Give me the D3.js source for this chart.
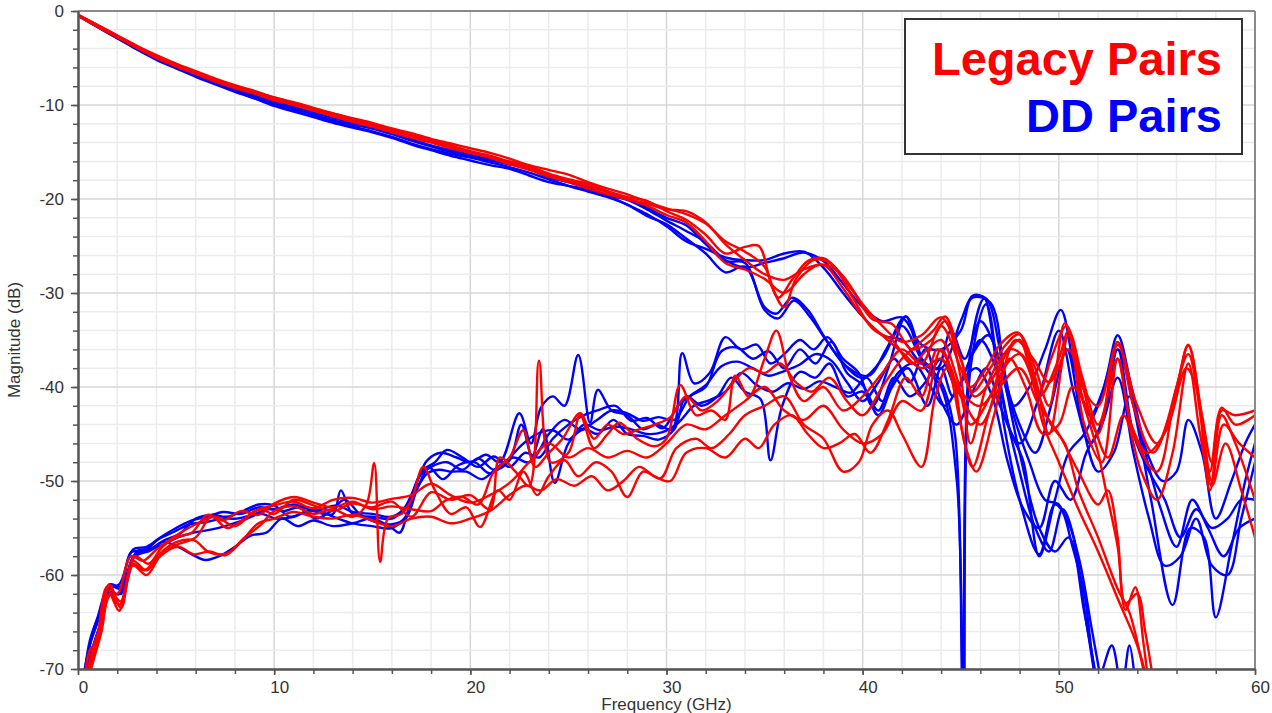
<!DOCTYPE html>
<html>
<head>
<meta charset="utf-8">
<script src="https://cdn.jsdelivr.net/npm/d3@7"></script>
<style>
  body { margin: 0; background: #fff; }
  svg text { font-family: Arial, "Liberation Sans", sans-serif; }
</style>
</head>
<body>
<svg id="chart"></svg>
<script>
// tick labels
const xTicks = [0, 10, 20, 30, 40, 50, 60];
const yTicks = [0, -10, -20, -30, -40, -50, -60, -70];

// legacy pairs, through (insertion loss) traces [GHz, dB]
const rThru1 = [[0,-0.4],[1,-1.5],[2,-2.6],[3,-3.7],[4,-4.7],[5,-5.6],[6,-6.4],[7,-7.2],[8,-7.9],[9,-8.5],[10,-9.2],[11,-9.7],[12,-10.3],[13,-10.9],[14,-11.4],[15,-11.9],[16,-12.5],[17,-13.0],[18,-13.6],[19,-14.1],[20,-14.6],[21,-15.1],[22,-15.7],[23,-16.4],[24,-16.9],[25,-17.4],[26,-18.2],[27,-18.9],[28,-19.5],[29,-20.3],[30,-21.0],[31,-21.6],[32,-22.6],[33,-24.5],[34,-25.6],[35,-27.2],[35.7,-30.5],[36.4,-28.6],[37.2,-26.6],[38,-26.3],[39,-28.2],[40,-31.2],[41,-33.5],[42,-35.2],[43,-34.5],[44,-32.6],[45,-37],[45.6,-40.5],[46.5,-38],[47.3,-35.5],[48,-34.4],[49,-40.5],[49.6,-37],[50.4,-33.5],[51.2,-40],[52,-42],[53,-35.2],[53.8,-42],[54.8,-47],[55.8,-42],[56.6,-35.6],[57.2,-42],[57.7,-49],[58.3,-42.2],[59,-44],[60,-43]];
const rThru2 = [[0,-0.5],[1,-1.6],[2,-2.7],[3,-3.9],[4,-4.9],[5,-5.8],[6,-6.6],[7,-7.4],[8,-8.1],[9,-8.7],[10,-9.3],[11,-9.9],[12,-10.5],[13,-11.0],[14,-11.6],[15,-12.1],[16,-12.7],[17,-13.2],[18,-13.7],[19,-14.3],[20,-14.9],[21,-15.4],[22,-16.0],[23,-16.5],[24,-17.3],[25,-17.9],[26,-18.4],[27,-19.2],[28,-19.8],[29,-20.2],[30,-21.3],[31,-22.2],[32,-23.8],[33,-25.8],[34,-25.1],[34.7,-25],[35.4,-29.5],[36,-31.5],[36.6,-28.5],[37.5,-26.5],[38.3,-26.8],[39.5,-29.8],[40.5,-32.8],[41.5,-33.3],[42.5,-36],[43.5,-35],[44.2,-33],[45,-39],[45.5,-46],[46.3,-40],[47.2,-36.5],[48,-35],[48.8,-39],[49.5,-45],[50.5,-34.5],[51.3,-44],[52.2,-48],[53,-37],[53.8,-45],[55,-49],[56,-40],[56.6,-36.5],[57.3,-44],[57.8,-50],[58.4,-44],[59.2,-46],[60,-47.5]];
const rThru3 = [[0,-0.4],[1,-1.5],[2,-2.6],[3,-3.8],[4,-4.8],[5,-5.7],[6,-6.5],[7,-7.3],[8,-8.0],[9,-8.6],[10,-9.2],[11,-9.8],[12,-10.4],[13,-10.9],[14,-11.5],[15,-12.1],[16,-12.6],[17,-13.3],[18,-13.9],[19,-14.4],[20,-15.0],[21,-15.6],[22,-16.1],[23,-16.7],[24,-17.5],[25,-18.0],[26,-18.6],[27,-19.3],[28,-20.0],[29,-20.7],[30,-21.7],[31,-22.5],[32,-24.5],[33,-26.8],[34,-27.5],[35,-28.5],[36,-30],[37,-28],[37.8,-27],[38.6,-27.5],[39.5,-30.5],[40.5,-33.8],[41.5,-35],[42.5,-37.5],[43.3,-36],[44,-35],[44.8,-39],[45.5,-44],[46.5,-41],[47.5,-36],[48.3,-37],[49.2,-44],[50,-48],[51,-53],[52,-57.5],[53,-62.5],[54,-67.5],[54.6,-72]];
const rThru4 = [[0,-0.5],[1,-1.7],[2,-2.8],[3,-3.9],[4,-5.0],[5,-5.9],[6,-6.7],[7,-7.5],[8,-8.2],[9,-8.8],[10,-9.5],[11,-10.0],[12,-10.6],[13,-11.2],[14,-11.8],[15,-12.3],[16,-12.9],[17,-13.5],[18,-14.0],[19,-14.6],[20,-15.1],[21,-15.6],[22,-16.3],[23,-16.9],[24,-17.6],[25,-18.2],[26,-18.9],[27,-19.5],[28,-20.0],[29,-20.5],[30,-21.1],[31,-21.3],[32,-22.5],[33,-24.8],[34,-26.5],[35,-28],[36,-28.6],[37,-27.5],[38,-27],[39,-29.5],[40,-32.5],[41,-34.5],[42,-36.3],[43,-38],[44,-37],[45,-41],[46,-44],[47,-40],[48,-38],[49,-42],[50,-45],[51,-49],[52,-52.5],[52.5,-51],[53,-56],[53.4,-63],[54,-62],[54.4,-66],[54.8,-71]];

// DD pairs, through traces
const bThru1 = [[0,-0.5],[1,-1.6],[2,-2.8],[3,-3.9],[4,-5.0],[5,-5.9],[6,-6.8],[7,-7.6],[8,-8.4],[9,-9.1],[10,-9.8],[11,-10.4],[12,-11.0],[13,-11.6],[14,-12.1],[15,-12.5],[16,-13.1],[17,-13.8],[18,-14.4],[19,-15.0],[20,-15.4],[21,-15.9],[22,-16.3],[23,-16.8],[24,-17.7],[25,-18.2],[26,-18.8],[27,-19.6],[28,-20.1],[29,-21.1],[30,-22.3],[31,-23.4],[32,-24.6],[33,-26.5],[34,-27.3],[35,-26.8],[36,-26.3],[37,-25.7],[38,-26.6],[39,-29],[40,-31.5],[41,-33],[42,-32.6],[43,-35.5],[44,-36],[45,-34],[45.6,-30.3],[46.3,-30.6],[47,-36],[47.7,-43],[48.5,-48],[49.3,-52],[50,-52.5],[50.7,-57],[51.3,-62],[52,-71],[52.7,-67.5],[53.2,-72],[53.6,-67.5],[54,-74]];
const bThru2 = [[0,-0.5],[1,-1.7],[2,-2.9],[3,-4.0],[4,-5.1],[5,-6.0],[6,-6.9],[7,-7.7],[8,-8.5],[9,-9.3],[10,-10.0],[11,-10.6],[12,-11.2],[13,-11.7],[14,-12.3],[15,-12.8],[16,-13.4],[17,-14.1],[18,-14.7],[19,-15.2],[20,-15.6],[21,-16.1],[22,-16.6],[23,-17.2],[24,-17.9],[25,-18.6],[26,-19.2],[27,-19.8],[28,-20.6],[29,-21.8],[30,-22.7],[31,-24.2],[32,-25.8],[33,-27.8],[34,-27.2],[35,-31.5],[35.6,-32.2],[36.4,-30.5],[37.2,-31.8],[38,-34.5],[39,-37.5],[40,-39],[41,-37],[42,-33.5],[43,-37],[44,-39.5],[44.7,-45],[45.1,-72],[45.5,-36],[46.2,-30.6],[47,-40],[48,-49],[48.8,-55],[49.5,-57.5],[50.2,-53],[51,-58],[51.7,-66],[52.3,-73]];
const bThru3 = [[0,-0.4],[1,-1.6],[2,-2.7],[3,-3.8],[4,-4.9],[5,-5.8],[6,-6.7],[7,-7.5],[8,-8.2],[9,-8.9],[10,-9.6],[11,-10.2],[12,-10.8],[13,-11.4],[14,-11.9],[15,-12.4],[16,-13.0],[17,-13.6],[18,-14.3],[19,-14.8],[20,-15.3],[21,-15.8],[22,-16.3],[23,-16.6],[24,-17.4],[25,-18.0],[26,-18.5],[27,-19.2],[28,-19.9],[29,-20.9],[30,-22.0],[31,-22.8],[32,-24.8],[33,-26.6],[34,-26.8],[35,-31.8],[35.7,-32.7],[36.5,-30.8],[37.3,-32.5],[38.3,-35.5],[39.3,-38],[40.3,-38.8],[41.2,-36],[42.2,-32.5],[43.2,-38],[44,-40],[44.8,-50],[45.15,-75],[45.5,-38],[46.3,-31.2],[47.2,-44],[48,-52],[49,-57.8],[49.8,-52.5],[50.6,-55],[51.4,-65],[52,-73]];
const bThru4 = [[0,-0.5],[1,-1.7],[2,-2.9],[3,-4.1],[4,-5.2],[5,-6.1],[6,-7.0],[7,-7.8],[8,-8.6],[9,-9.3],[10,-10.1],[11,-10.7],[12,-11.3],[13,-11.9],[14,-12.4],[15,-12.9],[16,-13.5],[17,-14.2],[18,-14.8],[19,-15.4],[20,-15.9],[21,-16.4],[22,-16.8],[23,-17.5],[24,-18.2],[25,-18.6],[26,-19.0],[27,-19.7],[28,-20.6],[29,-21.6],[30,-22.9],[31,-24.5],[32,-25.3],[33,-26.2],[34,-26.5],[35,-26.5],[36,-25.8],[37,-25.6],[38,-27.3],[39,-30],[40,-32.5],[41,-34.5],[42,-35],[43,-37.5],[44,-38],[45,-33],[45.6,-30.5],[46.5,-31],[47.3,-40],[48,-47],[49,-55],[49.8,-57.5],[50.5,-56],[51.3,-64],[52,-72]];

// legacy pairs, crosstalk traces
const rXt1 = [[0.3,-72],[0.6,-68],[1,-67],[1.5,-61.5],[2.1,-63.2],[2.8,-58.8],[3.4,-59.5],[4.2,-57.7],[5,-56.8],[6,-56],[6.8,-53.8],[7.6,-55],[8.5,-54],[9.3,-53],[10,-53.5],[11,-52],[12,-52.6],[13,-53.2],[14,-52.4],[15,-52.8],[16,-52.2],[17,-53.8],[18,-51.2],[19,-52],[20,-51.5],[21,-53],[21.5,-47.5],[22.3,-49],[23,-50.5],[23.5,-37.2],[24.1,-48],[25,-47],[25.6,-43],[26.3,-46.5],[27,-45],[27.6,-43.8],[28.5,-45.5],[29.4,-46.3],[30,-45.5],[30.7,-39.8],[31.5,-43],[32.3,-42.5],[33,-43.5],[33.5,-38.8],[34.2,-41],[35,-37],[35.6,-34],[36.3,-39],[37,-41.5],[38,-40],[39,-42.5],[40,-41],[41,-38.5],[42,-36],[43,-37.5],[44,-33.5],[45,-38],[45.5,-40],[46.3,-38],[47,-35.5],[47.9,-34.2],[48.8,-38],[49.5,-42],[50.3,-33.2],[51,-38],[52,-45],[53,-35.5],[54,-42],[55,-46],[56,-40],[56.6,-35.5],[57.3,-43],[57.8,-48],[58.3,-42.5],[59,-43],[60,-42.5]];
const rXt2 = [[0.4,-71],[0.8,-67.5],[1.2,-65],[1.6,-61],[2.2,-63.5],[2.8,-58.5],[3.5,-59.5],[4.3,-57.5],[5,-56.5],[5.9,-56.3],[6.7,-57.6],[7.6,-57.7],[8.5,-56],[9.3,-54.7],[10,-53.2],[11,-52.7],[12,-53.5],[13,-53],[14,-53.8],[14.7,-52.5],[15.1,-48.1],[15.4,-58.6],[15.8,-54],[16.5,-53.5],[17,-52],[17.6,-48.5],[18.2,-51],[19,-53.5],[19.8,-52.8],[20.5,-54.9],[21.4,-51],[22,-52],[22.7,-49],[23.4,-51.5],[24,-49.5],[24.8,-47.8],[25.5,-49.5],[26.4,-48],[27.2,-49],[28,-51.7],[28.8,-49],[29.7,-49.7],[30.5,-46.5],[31.5,-45.5],[32.3,-46.5],[33.2,-45],[34,-43],[35,-42],[36,-41],[37,-44],[38,-45.5],[39,-49],[39.8,-48],[40.5,-44],[41.3,-42.5],[42,-45],[43,-48.5],[43.7,-41],[44.3,-38],[45,-44],[45.6,-48.5],[46.4,-43],[47.2,-38],[48,-36.5],[48.8,-40],[49.6,-44],[50.3,-46],[51,-51],[52,-56],[53,-61.5],[53.6,-64],[54.2,-69],[54.5,-72]];
const rXt3 = [[0.5,-70.5],[0.9,-68],[1.3,-64],[1.7,-62],[2.2,-62.8],[2.9,-58],[3.6,-58.8],[4.3,-57],[5,-56],[5.8,-55.5],[6.6,-53.6],[7.4,-54.2],[8.3,-53.2],[9.2,-53.6],[10,-52.4],[11,-51.7],[12,-52.3],[13,-52.8],[14,-52.2],[15,-53],[16,-52.7],[17,-53],[18,-53.2],[18.8,-52],[19.6,-51.7],[20.4,-52.5],[21.2,-49],[22,-47.5],[22.7,-44.6],[23.3,-48.5],[24,-47],[24.7,-45.5],[25.6,-42.8],[26.3,-45.5],[27,-44],[27.8,-45],[28.6,-44.5],[29.4,-44],[30.2,-43.2],[31,-41],[31.8,-42.5],[32.6,-41.5],[33.4,-39.5],[34.2,-38],[35,-38.5],[35.8,-37.5],[36.6,-39.5],[37.4,-40.5],[38.3,-39],[39.2,-41.5],[40,-43],[41,-40],[42,-37],[42.8,-35.5],[43.6,-34],[44.2,-32.5],[45,-37],[45.7,-41],[46.5,-39.5],[47.3,-36.5],[48,-35],[49,-41],[50,-37],[50.5,-34],[51.2,-39],[52,-44],[52.6,-40],[53,-37],[53.7,-44],[54.5,-47],[55.5,-44.5],[56.5,-38],[57,-40],[57.7,-51],[58.3,-43],[59,-46],[60,-52]];
const rXt4 = [[0.4,-72],[0.8,-69],[1.2,-66],[1.6,-62],[2.1,-63.8],[2.8,-59],[3.5,-60],[4.2,-58],[5.1,-57],[5.9,-57.8],[6.7,-57.5],[7.5,-57.9],[8.3,-56.5],[9.2,-54.5],[10,-54],[11,-53.3],[12,-53.8],[13,-54],[14,-53.6],[15,-54.2],[16,-54.8],[17,-54],[18,-53.8],[19,-54.5],[20,-54],[21,-53.2],[22,-51.5],[22.8,-50.5],[23.6,-51],[24.4,-49.8],[25.3,-50.5],[26.2,-49.5],[27,-51],[27.8,-50],[28.6,-48.5],[29.4,-49.5],[30.2,-50],[31,-47],[32,-46.5],[33,-47.5],[34,-45.5],[34.7,-46.5],[35.5,-44],[36.4,-43],[37.2,-45],[38,-46.5],[38.8,-46],[39.6,-45],[40.4,-47],[41.3,-43.5],[42.2,-39],[43,-41],[43.8,-36],[44.5,-38],[45.2,-46],[45.8,-49],[46.7,-43],[47.5,-37],[48.3,-40],[49.2,-45],[50,-44],[50.7,-40],[51.5,-42.5],[52.5,-47.5],[53.3,-43],[54.2,-49],[55,-52],[55.8,-47],[56.6,-37.5],[57.2,-45],[57.8,-50.5],[58.5,-46],[59.3,-51],[60,-56]];
const rXt5 = [[0.5,-71],[1,-66.5],[1.5,-61.2],[2,-62],[2.7,-58],[3.3,-58.5],[4,-57.3],[5,-55.8],[6,-54.6],[7,-53.8],[8,-54.8],[9,-53.2],[10,-52.6],[11,-52.2],[12,-52.9],[13,-52],[14,-51.8],[15,-52.3],[16,-51.9],[17,-51.5],[18,-50.3],[19,-51.5],[20,-52.3],[21,-51.5],[22,-50.2],[23,-48],[24,-46],[25,-47.5],[26,-46.5],[27,-47.5],[28,-46.8],[29,-47.5],[30,-46],[31,-44],[32,-44.5],[33,-43],[34,-41.5],[35,-40],[36,-42.5],[37,-43.5],[38,-42],[39,-44.5],[40,-46],[41,-45],[42,-41.5],[43,-42.5],[44,-36],[45,-40.5],[46,-42],[47,-39],[47.8,-35],[48.7,-37],[49.5,-39.5],[50.5,-36],[51.3,-42],[52,-47],[52.4,-51],[53,-57],[53.4,-63.7],[53.9,-61.3],[54.3,-67],[54.6,-72]];

// DD pairs, crosstalk traces
const bXt1 = [[0.3,-71],[0.6,-67],[1,-64.5],[1.5,-61.5],[2.1,-61],[2.8,-57.3],[3.5,-57],[4.2,-56],[5,-55],[5.8,-54.2],[6.6,-53.8],[7.4,-53.3],[8.3,-53.5],[9.2,-52.8],[10,-53],[11,-52.5],[12,-53.2],[13,-53.5],[13.4,-51],[14,-53.5],[15,-53.8],[16,-54],[16.6,-53],[17.3,-50],[17.8,-47.8],[18.5,-47],[19.3,-47.5],[20,-48],[20.8,-47.2],[21.5,-48],[22.5,-42.8],[23.1,-46],[23.6,-42.2],[24.2,-41],[24.8,-42],[25.5,-36.6],[26.1,-43.8],[26.5,-40.3],[27.2,-42.5],[28,-43],[28.8,-44.5],[29.5,-44],[30.3,-44.5],[30.8,-36.4],[31.4,-39.6],[32.2,-38.5],[33,-34.7],[33.8,-36],[34.6,-35.5],[35.3,-37.5],[36,-36.5],[36.8,-35],[37.5,-36],[38.2,-34.7],[39,-37],[39.8,-38.5],[40.5,-42],[41.3,-38],[42.2,-32.5],[43,-37],[43.8,-38],[44.5,-34],[45.2,-37],[46,-33],[46.8,-36],[47.7,-42],[48.5,-40],[49.3,-36],[50.1,-31.8],[50.8,-38],[51.6,-43],[52.3,-40],[53,-34.5],[53.7,-40],[54.5,-47],[55.3,-50],[56,-49],[56.6,-43.5],[57.3,-47],[58,-54],[58.8,-50],[59.5,-46],[60,-44]];
const bXt2 = [[0.4,-70],[0.7,-66.5],[1.1,-64],[1.6,-61],[2.2,-61.2],[2.9,-57.8],[3.6,-57.5],[4.3,-56.5],[5.1,-57],[5.8,-57.8],[6.5,-58.4],[7.2,-58],[8,-57],[8.8,-55.8],[9.6,-55.5],[10.4,-54],[11.2,-54.8],[12,-54.2],[13,-54.8],[14,-54.5],[15,-54],[16,-55],[16.4,-55.5],[17,-52],[17.8,-49.2],[18.4,-48.8],[19,-49],[19.8,-49],[20.6,-49.8],[21.4,-48.5],[22.2,-47.5],[23,-48],[23.7,-44.5],[24.3,-50.2],[25,-46],[25.8,-44.5],[26.5,-45],[27.3,-43.5],[28,-45],[28.8,-45.2],[29.6,-45.6],[30.4,-44.5],[31,-41],[31.8,-42],[32.6,-41],[33.3,-39],[34,-40.5],[34.8,-41.3],[35.3,-47.8],[35.9,-42],[36.8,-38.4],[37.6,-39],[38.3,-37.5],[39.2,-41],[40,-40.5],[40.8,-43],[41.5,-40],[42.3,-38],[43.3,-42],[44,-38],[44.6,-41],[45.3,-38],[46,-35],[46.8,-38],[47.5,-44.5],[48.2,-48],[49,-58],[49.8,-52],[50.5,-47],[51.3,-45],[52,-42],[53,-36],[53.8,-42],[54.7,-52],[55.8,-63.2],[56.7,-55],[57.4,-56],[58,-64.5],[58.8,-57],[59.5,-50],[60,-46]];
const bXt3 = [[0.3,-72],[0.7,-68],[1.1,-65.5],[1.6,-62],[2.2,-62],[2.8,-58.2],[3.5,-57.5],[4.3,-56.8],[5.1,-56],[5.9,-55.5],[6.7,-55.2],[7.5,-54.8],[8.4,-54.2],[9.3,-53.5],[10.1,-54],[11,-53.8],[12,-53],[13,-53.8],[14,-54.5],[15,-54.8],[16,-55],[16.8,-53.5],[17.5,-49],[18.2,-48],[18.8,-46.7],[19.6,-47.5],[20.4,-48.5],[21.2,-47.4],[22,-48.5],[22.8,-47],[23.5,-47.5],[24.2,-45.5],[25,-44],[25.8,-43],[26.6,-42.4],[27.4,-42],[28.2,-43.6],[29,-43.3],[29.8,-44.4],[30.6,-42],[31.3,-40.8],[32,-39.8],[32.8,-37.8],[33.6,-37.3],[34.4,-38],[35.2,-38.8],[36,-38.3],[36.8,-37.6],[37.6,-36.5],[38.4,-37.2],[39.2,-39.5],[40,-41.5],[40.8,-39.5],[41.6,-37],[42.4,-39.5],[43.2,-36],[44,-41.5],[44.8,-44],[45.5,-41],[46.3,-38],[47,-42],[48,-46],[49,-41],[50,-34],[50.8,-41],[51.6,-46],[52.3,-43],[53,-36],[53.8,-45],[54.6,-49],[55.4,-52],[56.2,-56],[57,-53],[57.8,-55],[58.6,-54],[59.3,-52],[60,-52]];
const bXt4 = [[0.4,-71],[0.8,-67.5],[1.2,-64.8],[1.7,-61.3],[2.3,-61.5],[3,-57.5],[3.7,-57.2],[4.4,-56.3],[5.2,-55.6],[6,-54],[6.8,-53.6],[7.6,-53.8],[8.4,-53.2],[9.2,-52.5],[10,-52.6],[10.8,-53.8],[11.6,-53.3],[12.4,-53],[13.2,-52.6],[14,-53.3],[15,-53.5],[16,-53.8],[16.8,-52.5],[17.4,-49.5],[18,-48.5],[18.8,-48],[19.6,-48.8],[20.4,-47.6],[21.2,-48.8],[22,-47.8],[22.6,-44],[23.2,-47.5],[24,-45],[24.8,-43.5],[25.6,-44.5],[26.4,-43.6],[27.2,-42.5],[28,-42.8],[28.8,-43.6],[29.6,-43.2],[30.4,-43.5],[31.2,-41],[32,-40],[32.8,-36.2],[33.6,-35.8],[34.4,-37],[35.2,-36.2],[36,-38],[36.8,-36],[37.6,-37.5],[38.4,-35.2],[39.2,-38.5],[40,-39.8],[40.8,-42.5],[41.6,-39],[42.4,-41],[43.2,-39.5],[44,-37],[44.8,-40],[45.6,-36.5],[46.4,-34.5],[47.2,-39],[48,-44],[48.8,-47],[49.6,-42],[50.4,-36],[51.2,-44],[52,-49],[52.8,-47],[53.6,-41],[54.4,-47],[55.2,-53],[56,-57],[56.8,-52],[57.6,-55],[58.4,-58],[59.2,-55],[60,-54]];
const bXt5 = [[0.3,-70.5],[0.6,-67.5],[1,-65],[1.5,-61.8],[2.1,-62],[2.7,-57.6],[3.4,-57.4],[4.1,-56.2],[4.9,-55.4],[5.7,-54.6],[6.5,-54.4],[7.3,-54],[8.1,-54],[8.9,-53.6],[9.7,-53],[10.5,-53.2],[11.3,-52.8],[12.1,-54],[12.9,-53.2],[13.6,-52],[14.4,-53.6],[15.2,-54.4],[16,-54.6],[16.7,-54],[17.3,-50.8],[17.9,-48.6],[18.6,-49.8],[19.4,-48.3],[20.2,-48],[21,-49.2],[21.8,-48],[22.6,-46.2],[23.4,-45],[24.2,-44.6],[25,-45.6],[25.8,-44],[26.6,-44.6],[27.4,-44.2],[28.2,-44.5],[29,-45],[29.8,-44.8],[30.6,-43.8],[31.4,-42],[32.2,-41.4],[33,-40.5],[33.8,-38.5],[34.6,-39.8],[35.4,-40.5],[36.2,-39.6],[37,-40.2],[37.8,-39.4],[38.6,-40],[39.4,-40.6],[40.2,-39],[41,-41.5],[41.8,-38.5],[42.6,-37.5],[43.4,-39.8],[44.2,-42],[45,-39.5],[45.8,-38],[46.6,-41],[47.4,-48],[48.2,-53],[49,-55],[49.8,-50],[50.6,-52],[51.4,-47],[52.2,-44],[53,-39],[53.8,-47],[54.6,-54],[55.4,-59],[56.2,-58],[57,-54],[57.8,-59],[58.6,-60],[59.3,-54],[60,-48]];

const legacyTraces = [rXt1, rXt2, rXt3, rXt4, rXt5, rThru1, rThru2, rThru3, rThru4];
const ddTraces = [bXt1, bXt2, bXt3, bXt4, bXt5, bThru1, bThru2, bThru3, bThru4];

const margin = { top: 11, right: 17, bottom: 44, left: 78 },
    totalW = 1272, totalH = 713,
    width = totalW - margin.left - margin.right,
    height = totalH - margin.top - margin.bottom;

const x = d3.scaleLinear().domain([0, 60]).range([0, width]);
const y = d3.scaleLinear().domain([-70, 0]).range([height, 0]);

const svg = d3.select('#chart')
    .attr('width', totalW)
    .attr('height', totalH)
    .append('g')
    .attr('transform', `translate(${margin.left}, ${margin.top})`);

svg.append('defs').append('clipPath')
    .attr('id', 'clip')
    .append('rect')
    .attr('width', width)
    .attr('height', height);

// grid
const xMinor = d3.range(0, 61, 2), yMinor = d3.range(-70, 1, 2);
const grid = svg.append('g');
grid.selectAll('.vx').data(xMinor).join('line')
    .attr('x1', d => x(d)).attr('x2', d => x(d))
    .attr('y1', 0).attr('y2', height)
    .attr('stroke', d => d % 10 === 0 ? '#d6d6d6' : '#ececec')
    .attr('stroke-width', 1.5);
grid.selectAll('.hy').data(yMinor).join('line')
    .attr('y1', d => y(d)).attr('y2', d => y(d))
    .attr('x1', 0).attr('x2', width)
    .attr('stroke', d => d % 10 === 0 ? '#d6d6d6' : '#ececec')
    .attr('stroke-width', 1.5);

// traces
const line = d3.line()
    .x(d => x(d[0]))
    .y(d => y(d[1]))
    .curve(d3.curveCatmullRom.alpha(0.5));

const lineGroup = svg.append('g').attr('clip-path', 'url(#clip)');
lineGroup.selectAll('.dd').data(ddTraces).join('path')
    .attr('fill', 'none')
    .attr('stroke', '#0000ff')
    .attr('stroke-width', 2.4)
    .attr('stroke-linejoin', 'round')
    .attr('d', line);
lineGroup.selectAll('.legacy').data(legacyTraces).join('path')
    .attr('fill', 'none')
    .attr('stroke', '#ff0000')
    .attr('stroke-width', 2.4)
    .attr('stroke-linejoin', 'round')
    .attr('d', line);

// frame: top and right
svg.append('line').attr('x1', 0).attr('x2', width).attr('y1', 0).attr('y2', 0)
    .attr('stroke', '#8a8a8a').attr('stroke-width', 2);
svg.append('line').attr('x1', width).attr('x2', width).attr('y1', 0).attr('y2', height)
    .attr('stroke', '#8a8a8a').attr('stroke-width', 2);

// axes
const styleAxis = g => {
    g.select('.domain').attr('stroke', '#555').attr('stroke-width', 2);
    g.selectAll('.tick line').attr('stroke', '#555').attr('stroke-width', 1.5);
    g.selectAll('.tick text').attr('fill', '#333').style('font-size', '17px');
};

svg.append('g')
    .attr('transform', `translate(0, ${height})`)
    .call(d3.axisBottom(x).tickValues(xMinor).tickFormat('').tickSize(5).tickSizeOuter(0))
    .call(styleAxis);
svg.append('g')
    .attr('transform', `translate(0, ${height})`)
    .call(d3.axisBottom(x).tickValues(xTicks).tickFormat(d => String(d)).tickSize(6).tickPadding(6).tickSizeOuter(0))
    .call(styleAxis)
    .call(g => g.selectAll('.tick text').attr('dx', 5));

svg.append('g')
    .call(d3.axisLeft(y).tickValues(yMinor).tickFormat('').tickSize(5).tickSizeOuter(0))
    .call(styleAxis);
svg.append('g')
    .call(d3.axisLeft(y).tickValues(yTicks).tickFormat(d => String(d)).tickSize(7).tickPadding(7).tickSizeOuter(0))
    .call(styleAxis);

// axis titles
svg.append('text')
    .attr('x', width / 2)
    .attr('y', height + 41)
    .attr('text-anchor', 'middle')
    .attr('fill', '#333')
    .style('font-size', '17px')
    .text('Frequency (GHz)');
svg.append('text')
    .attr('transform', `translate(${-58}, ${height / 2}) rotate(-90)`)
    .attr('text-anchor', 'middle')
    .attr('fill', '#333')
    .style('font-size', '17px')
    .text('Magnitude (dB)');

// legend
const legend = svg.append('g').attr('transform', `translate(${905 - margin.left}, ${19 - margin.top})`);
legend.append('rect')
    .attr('width', 337).attr('height', 135)
    .attr('fill', '#fff').attr('stroke', '#333').attr('stroke-width', 2);
legend.append('text')
    .attr('x', 317).attr('y', 56)
    .attr('text-anchor', 'end')
    .attr('fill', '#ff0000')
    .style('font-size', '47px').style('font-weight', 'bold')
    .text('Legacy Pairs');
legend.append('text')
    .attr('x', 317).attr('y', 113)
    .attr('text-anchor', 'end')
    .attr('fill', '#0000ff')
    .style('font-size', '47px').style('font-weight', 'bold')
    .text('DD Pairs');
</script>
</body>
</html>
